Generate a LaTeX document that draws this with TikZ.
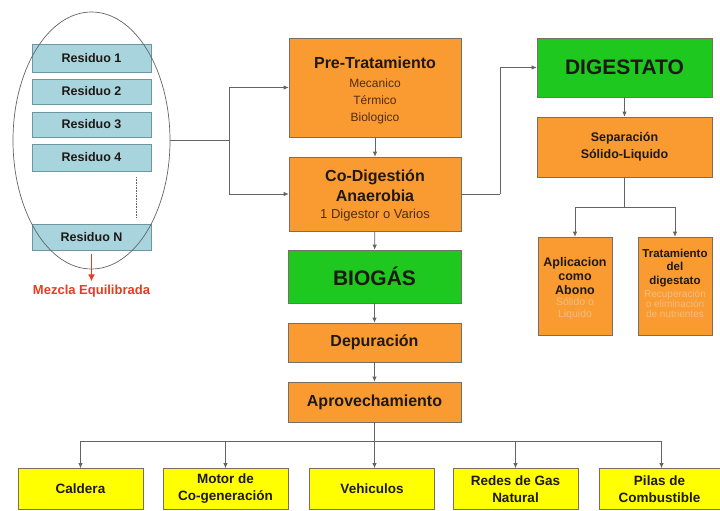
\documentclass[tikz,border=0pt]{standalone}
\usepackage{fontspec}
\setmainfont{Liberation Sans}
\usetikzlibrary{arrows.meta,shapes.geometric}
\definecolor{orng}{RGB}{250,155,50}
\definecolor{grn}{RGB}{30,200,30}
\definecolor{ylw}{RGB}{255,255,0}
\definecolor{resb}{RGB}{168,212,222}
\definecolor{resd}{RGB}{110,150,160}
\definecolor{bord}{RGB}{120,110,100}
\definecolor{txt}{RGB}{30,25,20}
\definecolor{subtxt}{RGB}{80,45,15}
\definecolor{paletxt}{RGB}{242,190,125}
\definecolor{redc}{RGB}{230,60,35}
\definecolor{linec}{RGB}{100,100,100}
\newcommand\ttlA{\fontsize{16}{17}\selectfont\bfseries}
\newcommand\subA{\fontsize{12}{17}\selectfont\mdseries\color{subtxt}}
\newcommand\ttlB{\fontsize{16}{17}\selectfont\bfseries}
\newcommand\subB{\fontsize{13}{17}\selectfont\mdseries\color{subtxt}}
\newcommand\ttlC{\fontsize{12.5}{12}\selectfont\bfseries}
\newcommand\ttlD{\fontsize{11.5}{10}\selectfont\bfseries}
\newcommand\paleA{\fontsize{10.5}{12}\selectfont\mdseries\color{paletxt}}
\newcommand\paleB{\fontsize{10}{10}\selectfont\mdseries\color{paletxt}}
\tikzset{
  base/.style={draw=bord, line width=0.6pt, inner sep=0pt, align=center, text=txt},
  obox/.style={base, fill=orng},
  gbox/.style={base, fill=grn, font=\fontsize{21}{24}\selectfont\bfseries},
  ybox/.style={base, fill=ylw, minimum width=125pt, minimum height=41pt, font=\fontsize{13.5}{17}\selectfont\bfseries},
  rbox/.style={draw=resd, line width=0.6pt, fill=resb, minimum width=119pt, inner sep=0pt, text=txt, font=\fontsize{12.5}{14}\selectfont\bfseries},
  conn/.style={draw=linec, line width=0.8pt},
  arr/.style={conn, -{Latex[length=5pt,width=4.5pt]}},
}
\begin{document}
\begin{tikzpicture}[x=1pt,y=-1pt]
\useasboundingbox (0,0) rectangle (720,511);
\fill[white] (0,0) rectangle (720,511);

% Residuos
\node[rbox, minimum height=28pt] (r1) at (91.5,58) {Residuo 1};
\node[rbox, minimum height=25pt] (r2) at (91.5,91.5) {Residuo 2};
\node[rbox, minimum height=25pt] (r3) at (91.5,124.5) {Residuo 3};
\node[rbox, minimum height=27pt] (r4) at (91.5,157.5) {Residuo 4};
\node[rbox, minimum height=26pt] (rn) at (91.5,237) {Residuo N};
\coordinate (d1) at (136,177);
\coordinate (d2) at (136,218);
\draw[linec, line width=0.6pt, densely dotted] (d1) -- (d2);
\node[draw=linec, line width=0.7pt, ellipse, minimum width=157pt, minimum height=257pt, inner sep=0pt] (el) at (91.5,140.5) {};
\coordinate (ra) at (91.5,254);
\node[text=redc, font=\fontsize{13}{15}\selectfont\bfseries] (mez) at (91.5,291) {Mezcla Equilibrada};
\draw[redc, line width=1.6pt, -{Latex[length=7pt,width=7pt]}] (ra) -- (mez.north);

% central column
\node[obox, minimum width=172pt, minimum height=99pt, font=\fontsize{12}{17}\selectfont] (pre) at (375,87.5)
  {\ttlA\rule{0pt}{18pt}Pre-Tratamiento\\[2pt] \subA Mecanico\\ \subA Térmico\\ \subA Biologico};
\node[obox, minimum width=172pt, minimum height=74pt, font=\fontsize{12}{17}\selectfont] (cod) at (375,194)
  {\ttlB\rule{0pt}{15pt}Co-Digestión\\[3pt] \ttlB Anaerobia\\ \subB 1 Digestor o Varios};
\node[gbox, minimum width=173pt, minimum height=53pt] (bio) at (374.5,276.5) {BIOGÁS};
\node[obox, minimum width=173pt, minimum height=39pt, font=\fontsize{16}{18}\selectfont\bfseries] (dep) at (374.5,342.5) {Depuración};
\node[obox, minimum width=173pt, minimum height=40pt, font=\fontsize{16}{18}\selectfont\bfseries] (apr) at (374.5,402) {Aprovechamiento};

% right column
\node[gbox, minimum width=175pt, minimum height=59pt] (dig) at (624.5,67.5) {DIGESTATO};
\node[obox, minimum width=175pt, minimum height=60pt, font=\fontsize{12.5}{17}\selectfont\bfseries] (sep) at (624.5,147) {Separación\\ Sólido-Liquido};
\node[obox, minimum width=74pt, minimum height=98pt, font=\fontsize{12}{12}\selectfont] (apl) at (575,286)
  {\ttlC\rule{0pt}{14pt}Aplicacion\\[2pt] \ttlC como\\[2pt] \ttlC Abono\\[-1pt] \paleA Sólido o\\ \paleA Liquido};
\node[obox, minimum width=74pt, minimum height=98pt, font=\fontsize{10}{10}\selectfont] (tra) at (675,286)
  {\ttlD Tratamiento\\[3.5pt] \ttlD del\\[3.5pt] \ttlD digestato\\[3pt] \paleB Recuperación\\ \paleB o eliminación\\ \paleB de nutrientes\rule[-6pt]{0pt}{6pt}};

% bottom row
\node[ybox] (cal) at (80.5,489) {Caldera};
\node[ybox] (mot) at (225.5,489) {Motor de\\ Co-generación};
\node[ybox] (veh) at (372,489) {Vehiculos};
\node[ybox] (red) at (515.5,489) {Redes de Gas\\ Natural};
\node[ybox, minimum width=121pt] (pil) at (659.5,489) {Pilas de\\ Combustible};

% connectors left
\coordinate (jl) at (229,140.5);
\draw[conn] (el.east) -- (jl);
\draw[arr] (jl) |- (pre.west);
\draw[arr] (jl) |- (cod.west);

% central arrows
\draw[arr] (pre) -- (cod);
\draw[arr] (cod) -- (bio);
\draw[arr] (bio) -- (dep);
\draw[arr] (dep) -- (apr);

% to digestato
\coordinate (jr) at (500,194);
\draw[conn] (cod.east) -- (jr);
\draw[arr] (jr) |- (dig.west);
\draw[arr] (dig) -- (sep);
\coordinate (js) at (624.5,207);
\draw[conn] (sep.south) -- (js);
\draw[arr] (js) -| (apl.north);
\draw[arr] (js) -| (tra.north);

% bottom bus
\coordinate (jb) at (374.5,441);
\draw[conn] (apr.south) -- (jb);
\draw[arr] (jb) -| (cal.north);
\draw[arr] (jb) -| (mot.north);
\draw[arr] (jb) -- (jb |- veh.north);
\draw[arr] (jb) -| (red.north);
\draw[arr] (jb) -| ([xshift=2pt]pil.north);
\end{tikzpicture}
\end{document}
